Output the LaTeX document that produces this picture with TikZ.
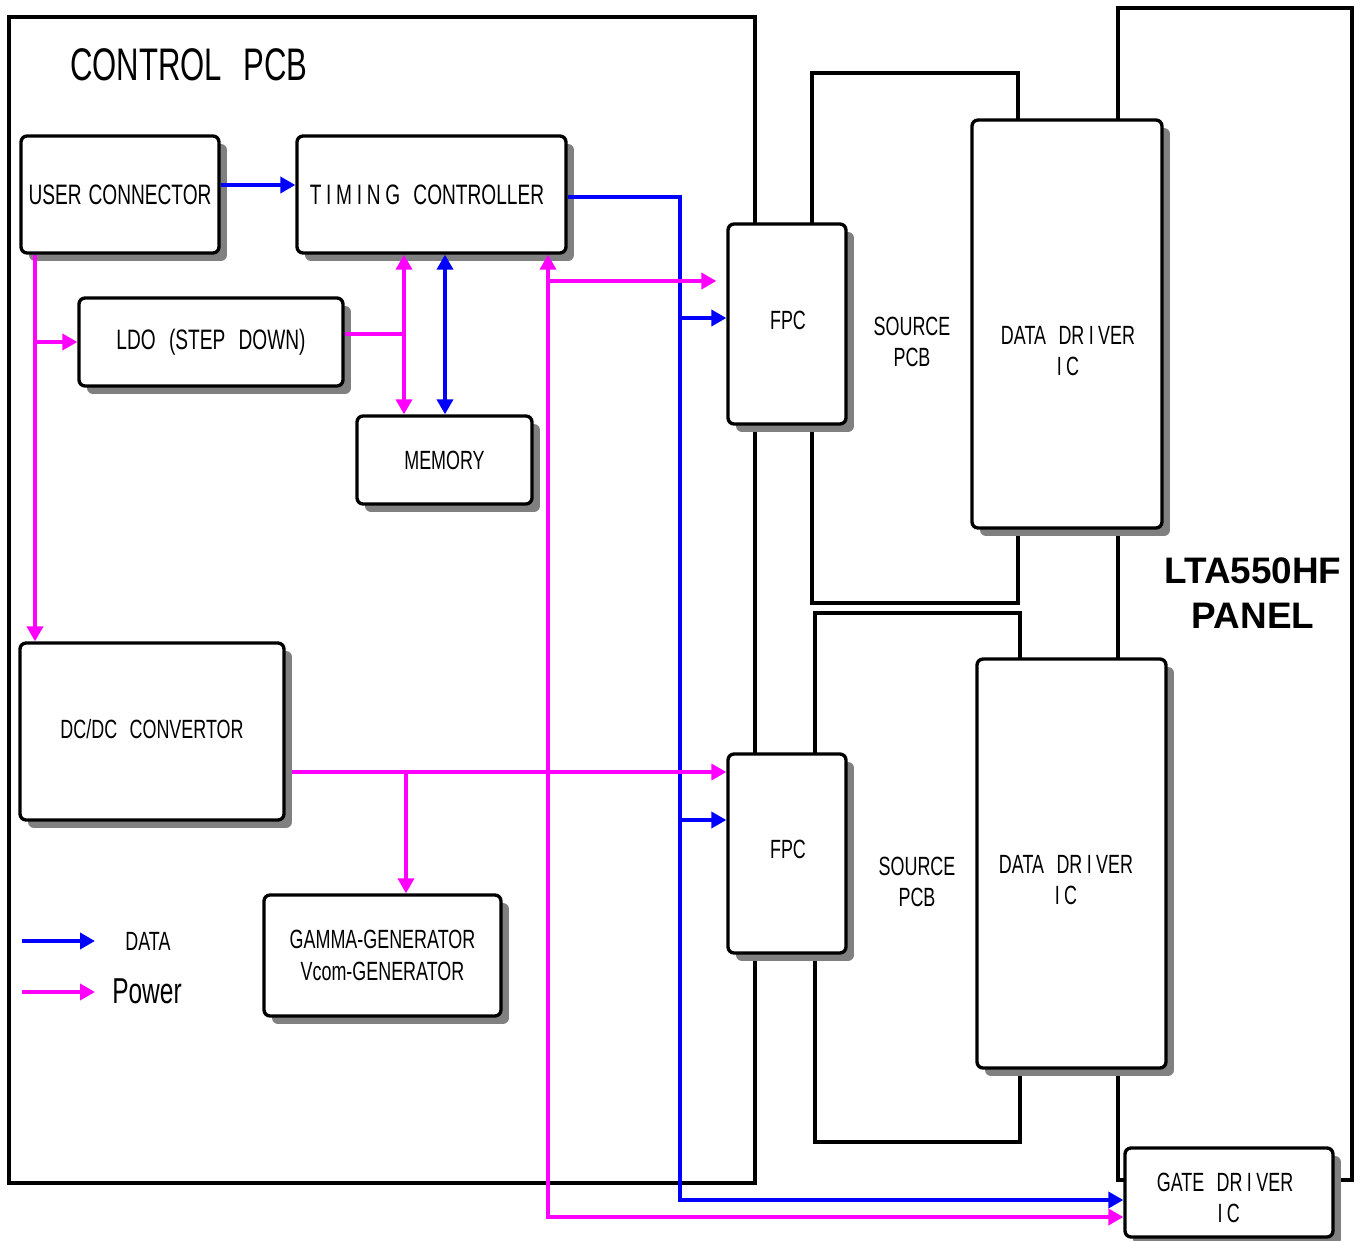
\documentclass[tikz,border=0pt]{standalone}
\usepackage{fontspec}
\setmainfont{Liberation Sans}
\newfontfamily\nar[FakeStretch=0.68,WordSpace=2.5]{Liberation Sans}
\usetikzlibrary{arrows.meta,shadows}
\definecolor{mag}{HTML}{FF00FF}
\definecolor{blu}{HTML}{0000FF}
\begin{document}
\begin{tikzpicture}[x=0.02cm,y=-0.02cm,
  >={Triangle[length=0.3cm,width=0.32cm]},
  blk/.style={draw,line width=1.9pt,rounded corners=0.12cm,fill=white,
    general shadow={fill=gray,shadow xshift=0.16cm,shadow yshift=-0.16cm},
    font=\nar\fontsize{15}{18}\selectfont,align=center,inner sep=0pt},
  frame/.style={draw,line width=2pt},
  txt/.style={font=\nar\fontsize{15}{18}\selectfont,align=center,inner sep=0pt},
  data/.style={blu,line width=2.1pt},
  power/.style={mag,line width=2.1pt}]
\useasboundingbox (0,0) rectangle (1363,1241);
% frames
\draw[frame] (1118,8) rectangle (1352,1180);
\draw[frame] (812,73) rectangle (1018,603);
\draw[frame] (815,613) rectangle (1020,1142);
\draw[frame] (9,17) rectangle (755,1183);
\node[font=\nar\fontsize{26}{30}\selectfont,inner sep=0pt] (title) at (189,65) {CONTROL PCB};
\node[font=\bfseries\fontsize{21}{25.5}\selectfont,align=center,inner sep=0pt] (paneltxt) at (1253,593) {LTA550HF\\PANEL};
% boxes
\node[blk,minimum width=3.96cm,minimum height=2.34cm,font=\nar\fontsize{16}{18}\selectfont] (uc) at (120,194.5) {USER\hspace{4pt}CONNECTOR};
\node[blk,minimum width=5.38cm,minimum height=2.34cm,font=\nar\fontsize{16}{18}\selectfont] (tc) at (431.5,194.5) {\hspace*{-0.18cm}T\,I\,M\,I\,N\,G CONTROLLER};
\node[blk,minimum width=5.28cm,minimum height=1.76cm,font=\nar\fontsize{16}{18}\selectfont] (ldo) at (211,342) {LDO (STEP DOWN)};
\node[blk,minimum width=3.5cm,minimum height=1.76cm] (mem) at (444.5,460) {MEMORY};
\node[blk,minimum width=5.28cm,minimum height=3.54cm] (dc) at (152,731.5) {\raisebox{0.1cm}{DC/DC CONVERTOR}};
\node[blk,minimum width=4.74cm,minimum height=2.42cm] (gam) at (382.5,955.5) {GAMMA-GENERATOR\\Vcom-GENERATOR};
\node[blk,minimum width=2.36cm,minimum height=4.0cm] (fpc1) at (787,324) {};
\node[txt] (fpc1t) at (788,320) {FPC};
\node[blk,minimum width=2.36cm,minimum height=3.98cm] (fpc2) at (787,853.5) {};
\node[txt] (fpc2t) at (788,849) {FPC};
\node[txt] (sp1t) at (912,342) {SOURCE\\PCB};
\node[txt] (sp2t) at (917,882) {SOURCE\\PCB};
\node[blk,minimum width=3.8cm,minimum height=8.16cm] (dd1) at (1067,324) {};
\node[txt] (dd1t) at (1068,351) {DATA DR\,I\,VER\\I\,C};
\node[blk,minimum width=3.78cm,minimum height=8.18cm] (dd2) at (1071.5,863.5) {};
\node[txt] (dd2t) at (1066,880) {DATA DR\,I\,VER\\I\,C};
\node[blk,minimum width=4.16cm,minimum height=1.78cm] (gd) at (1229,1192.5) {};
\node[txt] (gdt) at (1225,1198) {GATE DR\,I\,VER\\\hspace*{0.15cm}I\,C};
% data connectors
\draw[data,->] (uc.east |- 0,185) -- (tc.west |- 0,185);
\coordinate (bj1) at (680,197);
\coordinate (bj2) at (680,318);
\coordinate (bj3) at (680,820);
\coordinate (bj4) at (680,1200);
\draw[data,->] (tc.east |- bj1) -- (bj1) -- (bj4) -- (gd.west |- bj4);
\draw[data,->] (bj2) -- (fpc1.west |- bj2);
\draw[data,->] (bj3) -- (fpc2.west |- bj3);
\draw[data,<->] (tc.south -| 445,0) -- (mem.north -| 445,0);
% power connectors
\coordinate (pj1) at (35,342);
\coordinate (pj2) at (404,334);
\coordinate (pj3) at (548,281);
\coordinate (pj4) at (548,1217);
\coordinate (pj5) at (406,772);
\coordinate (pj6) at (292,772);
\draw[power,->] (uc.south -| pj1) -- (dc.north -| pj1);
\draw[power,->] (pj1) -- (ldo.west |- pj1);
\draw[power] (ldo.east |- pj2) -- (pj2);
\draw[power,<->] (tc.south -| pj2) -- (mem.north -| pj2);
\draw[power,<->] (tc.south -| pj3) -- (pj4) -- (gd.west |- pj4);
\draw[power,->,shorten >=0.2cm] (pj3) -- (fpc1.west |- pj3);
\draw[power,->] (pj6) -- (fpc2.west |- pj6);
\draw[power,->] (pj5) -- (gam.north -| pj5);
% legend
\coordinate (l1a) at (22,941);
\coordinate (l1b) at (95,941);
\coordinate (l2a) at (22,992);
\coordinate (l2b) at (95,992);
\draw[data,->] (l1a) -- (l1b);
\draw[power,->] (l2a) -- (l2b);
\node[txt] (ldata) at (148,941) {DATA};
\node[font=\nar\fontsize{20.5}{24}\selectfont,inner sep=0pt] (lpow) at (147,991) {Power};
\end{tikzpicture}
\end{document}
